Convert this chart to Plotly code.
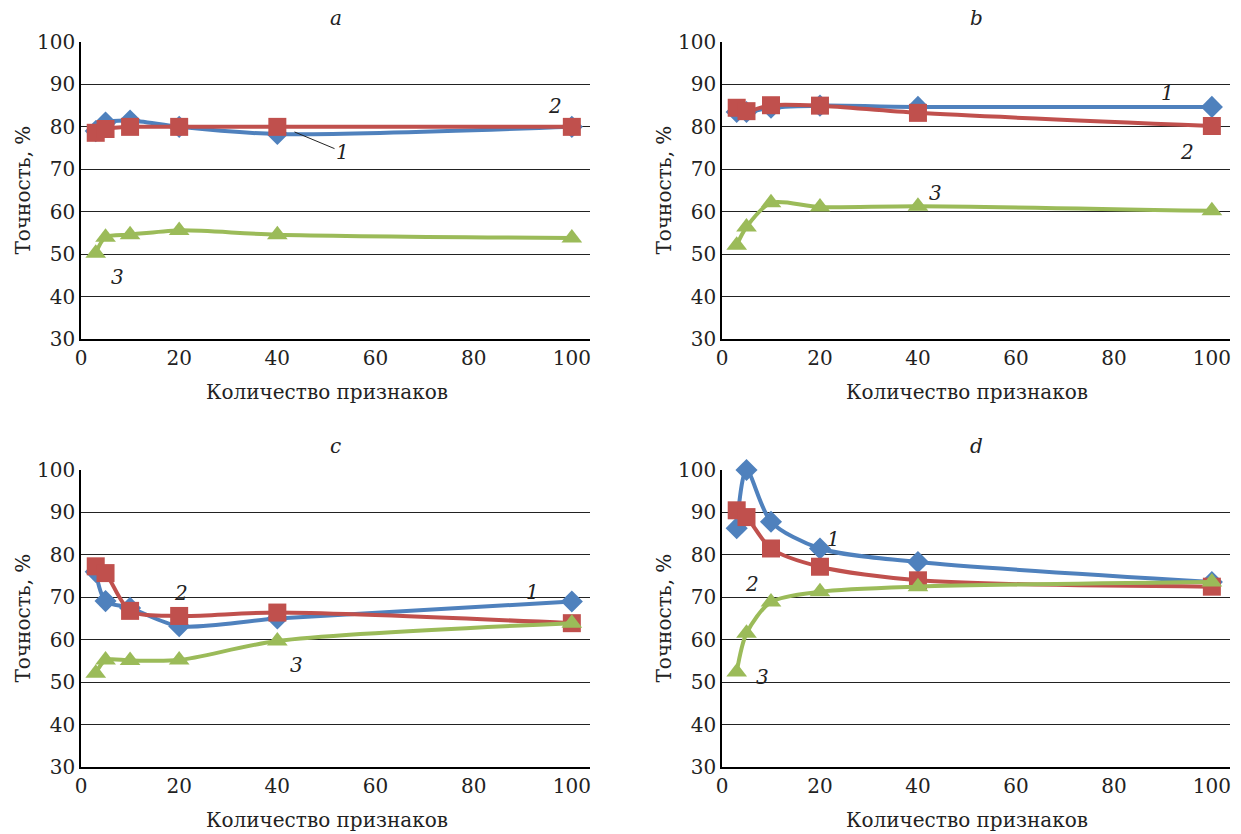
import plotly.graph_objects as go

x_features = [3, 5, 10, 20, 40, 100]

a1 = [79.0, 81.0, 81.5, 80.0, 78.3, 80.0]
a2 = [78.6, 79.5, 80.0, 80.0, 80.0, 80.0]
a3 = [50.2, 54.0, 54.6, 55.6, 54.6, 53.8]

b1 = [83.5, 83.5, 84.5, 85.0, 84.7, 84.7]
b2 = [84.5, 83.7, 85.1, 85.0, 83.3, 80.2]
b3 = [52.1, 56.4, 62.1, 61.1, 61.3, 60.2]

c1 = [76.0, 69.1, 67.5, 63.2, 65.0, 69.0]
c2 = [77.3, 75.7, 66.8, 65.6, 66.4, 63.9]
c3 = [52.1, 55.2, 55.1, 55.2, 59.7, 63.9]

d1 = [86.3, 100.0, 87.8, 81.5, 78.3, 73.6]
d2 = [90.5, 88.9, 81.5, 77.2, 74.0, 72.5]
d3 = [52.4, 61.5, 68.9, 71.3, 72.5, 73.6]

panel_names = ["a", "b", "c", "d"]
panel_data = [(a1, a2, a3), (b1, b2, b3), (c1, c2, c3), (d1, d2, d3)]

y_title = "Точность, %"
x_title = "Количество признаков"
y_ticks = [30, 40, 50, 60, 70, 80, 90, 100]
x_ticks = [0, 20, 40, 60, 80, 100]

colors = ["#4F81BD", "#C0504D", "#9BBB59"]
symbols = ["diamond", "square", "triangle-up"]
msizes = [17, 18, 18]

FONT = "DejaVu Serif"
W, H = 1241, 834

# pixel layout of panels
xdom_px = [(81, 590), (722, 1230), (81, 590), (722, 1230)]
ydom_px = [(42, 339), (42, 339), (470, 767), (470, 767)]

fig = go.Figure()

for i, (name, series) in enumerate(zip(panel_names, panel_data)):
    xa = "x" if i == 0 else f"x{i+1}"
    ya = "y" if i == 0 else f"y{i+1}"
    for k, vals in enumerate(series):
        fig.add_trace(go.Scatter(
            x=x_features, y=vals, xaxis=xa, yaxis=ya,
            mode="lines+markers",
            line=dict(color=colors[k], width=4, shape="spline", smoothing=0.8),
            marker=dict(symbol=symbols[k], size=msizes[k], color=colors[k]),
            showlegend=False, cliponaxis=False,
        ))
    x0, x1 = xdom_px[i]
    y0, y1 = ydom_px[i]
    xkey = "xaxis" if i == 0 else f"xaxis{i+1}"
    ykey = "yaxis" if i == 0 else f"yaxis{i+1}"
    fig.update_layout(**{
        xkey: dict(domain=[x0 / W, x1 / W], range=[0, 103.7], tickvals=x_ticks,
                   showgrid=False, zeroline=False, showline=True, linecolor="black",
                   linewidth=1.5, ticks="", anchor=ya, automargin=False,
                   tickfont=dict(family=FONT, size=20, color="#222")),
        ykey: dict(domain=[1 - y1 / H, 1 - y0 / H], range=[30, 100], tickvals=y_ticks,
                   showgrid=True, gridcolor="#222", gridwidth=1, zeroline=False,
                   showline=True, linecolor="black", linewidth=1.5, ticks="",
                   anchor=xa, automargin=False,
                   tickfont=dict(family=FONT, size=20, color="#222")),
    })
    # panel letter
    fig.add_annotation(text=f"<i>{name}</i>", xref="paper", yref="paper",
                       x=((x0 + x1) / 2) / W, y=1 - (y0 - 24) / H,
                       showarrow=False, font=dict(family=FONT, size=20, color="#222"),
                       xanchor="center", yanchor="middle")
    # axis titles
    fig.add_annotation(text=x_title, xref="paper", yref="paper",
                       x=((x0 + x1) / 2 - 9) / W, y=1 - (y1 + 53) / H,
                       showarrow=False, font=dict(family=FONT, size=20, color="#222"),
                       xanchor="center", yanchor="middle")
    fig.add_annotation(text=y_title, xref="paper", yref="paper",
                       x=(x0 - 59) / W, y=1 - ((y0 + y1) / 2) / H, textangle=-90,
                       showarrow=False, font=dict(family=FONT, size=20, color="#222"),
                       xanchor="center", yanchor="middle")

lab_font = dict(family=FONT, size=20, color="#222")

def lab(text, xa, ya, x, y):
    fig.add_annotation(text=f"<i>{text}</i>", xref=xa, yref=ya, x=x, y=y,
                       showarrow=False, font=lab_font)

# panel a
lab("2", "x", "y", 96.5, 85.0)
lab("3", "x", "y", 7.5, 44.7)
fig.add_annotation(text="<i>1</i>", xref="x", yref="y", x=43.5, y=78.8,
                   ax=48, ay=20, showarrow=True, arrowhead=0, arrowwidth=1,
                   arrowcolor="#222", font=lab_font)
# panel b
lab("1", "x2", "y2", 91.0, 88.0)
lab("2", "x2", "y2", 95.0, 74.0)
lab("3", "x2", "y2", 43.5, 64.5)
# panel c
lab("2", "x3", "y3", 20.3, 71.0)
lab("1", "x3", "y3", 92.0, 71.2)
lab("3", "x3", "y3", 44.0, 54.0)
# panel d
lab("1", "x4", "y4", 22.7, 83.8)
lab("2", "x4", "y4", 6.2, 73.2)
lab("3", "x4", "y4", 8.3, 51.2)

fig.update_layout(width=W, height=H, margin=dict(l=0, r=0, t=0, b=0),
                  paper_bgcolor="white", plot_bgcolor="white",
                  font=dict(family=FONT, color="#222"))

fig.write_html("out.html", config={"displayModeBar": False},
               post_script="document.body.style.margin='0';document.body.style.overflow='hidden';")
